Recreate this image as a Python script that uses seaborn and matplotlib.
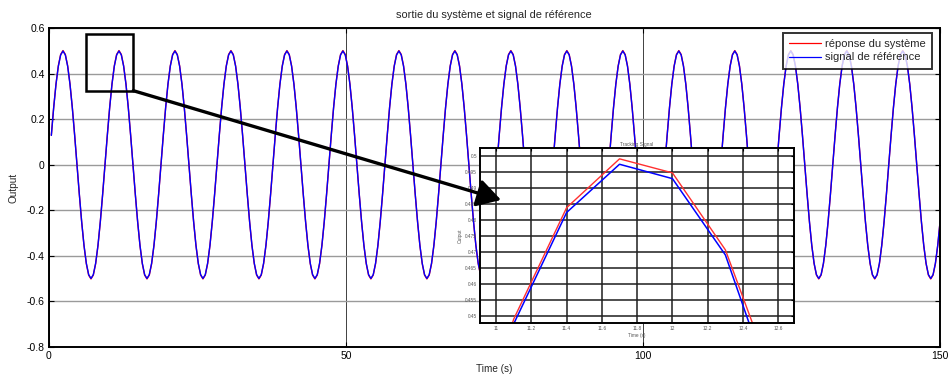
import numpy as np
import pandas as pd
import matplotlib
matplotlib.use("Agg")
import matplotlib.pyplot as plt
import seaborn as sns
from matplotlib.patches import Rectangle, FancyArrowPatch

# ---------------- data ----------------
# main chart: signals sampled every pi/8 s (period of the wave ~ 9.42 s, amplitude 0.5)
sample_step = 0.3927
reference_signal = [
    0.129, 0.25, 0.354, 0.433, 0.483, 0.5, 0.483, 0.433, 0.354, 0.25, 0.129, 0, -0.129, -0.25, -0.354, -0.433, -0.483, -0.5, -0.483, -0.433, -0.354, -0.25, -0.129, 0,
    0.129, 0.25, 0.354, 0.433, 0.483, 0.5, 0.483, 0.433, 0.354, 0.25, 0.129, 0, -0.129, -0.25, -0.354, -0.433, -0.483, -0.5, -0.483, -0.433, -0.354, -0.25, -0.129, 0,
    0.129, 0.25, 0.354, 0.433, 0.483, 0.5, 0.483, 0.433, 0.354, 0.25, 0.129, 0, -0.129, -0.25, -0.354, -0.433, -0.483, -0.5, -0.483, -0.433, -0.354, -0.25, -0.129, 0,
    0.129, 0.25, 0.354, 0.433, 0.483, 0.5, 0.483, 0.433, 0.354, 0.25, 0.129, 0, -0.129, -0.25, -0.354, -0.433, -0.483, -0.5, -0.483, -0.433, -0.354, -0.25, -0.129, 0,
    0.129, 0.25, 0.354, 0.433, 0.483, 0.5, 0.483, 0.433, 0.354, 0.25, 0.129, 0, -0.129, -0.25, -0.354, -0.433, -0.483, -0.5, -0.483, -0.433, -0.354, -0.25, -0.129, 0,
    0.129, 0.25, 0.354, 0.433, 0.483, 0.5, 0.483, 0.433, 0.354, 0.25, 0.129, 0, -0.129, -0.25, -0.354, -0.433, -0.483, -0.5, -0.483, -0.433, -0.354, -0.25, -0.129, 0,
    0.129, 0.25, 0.354, 0.433, 0.483, 0.5, 0.483, 0.433, 0.354, 0.25, 0.129, 0, -0.129, -0.25, -0.354, -0.433, -0.483, -0.5, -0.483, -0.433, -0.354, -0.25, -0.129, 0,
    0.129, 0.25, 0.354, 0.433, 0.483, 0.5, 0.483, 0.433, 0.354, 0.25, 0.129, 0, -0.129, -0.25, -0.354, -0.433, -0.483, -0.5, -0.483, -0.433, -0.354, -0.25, -0.129, 0,
    0.129, 0.25, 0.354, 0.433, 0.483, 0.5, 0.483, 0.433, 0.354, 0.25, 0.129, 0, -0.129, -0.25, -0.354, -0.433, -0.483, -0.5, -0.483, -0.433, -0.354, -0.25, -0.129, 0,
    0.129, 0.25, 0.354, 0.433, 0.483, 0.5, 0.483, 0.433, 0.354, 0.25, 0.129, 0, -0.129, -0.25, -0.354, -0.433, -0.483, -0.5, -0.483, -0.433, -0.354, -0.25, -0.129, 0,
    0.129, 0.25, 0.354, 0.433, 0.483, 0.5, 0.483, 0.433, 0.354, 0.25, 0.129, 0, -0.129, -0.25, -0.354, -0.433, -0.483, -0.5, -0.483, -0.433, -0.354, -0.25, -0.129, 0,
    0.129, 0.25, 0.354, 0.433, 0.483, 0.5, 0.483, 0.433, 0.354, 0.25, 0.129, 0, -0.129, -0.25, -0.354, -0.433, -0.483, -0.5, -0.483, -0.433, -0.354, -0.25, -0.129, 0,
    0.129, 0.25, 0.354, 0.433, 0.483, 0.5, 0.483, 0.433, 0.354, 0.25, 0.129, 0, -0.129, -0.25, -0.354, -0.433, -0.483, -0.5, -0.483, -0.433, -0.354, -0.25, -0.129, 0,
    0.129, 0.25, 0.354, 0.433, 0.483, 0.5, 0.483, 0.433, 0.354, 0.25, 0.129, 0, -0.129, -0.25, -0.354, -0.433, -0.483, -0.5, -0.483, -0.433, -0.354, -0.25, -0.129, 0,
    0.129, 0.25, 0.354, 0.433, 0.483, 0.5, 0.483, 0.433, 0.354, 0.25, 0.129, 0, -0.129, -0.25, -0.354, -0.433, -0.483, -0.5, -0.483, -0.433, -0.354, -0.25, -0.129, 0,
    0.129, 0.25, 0.354, 0.433, 0.483, 0.5, 0.483, 0.433, 0.354, 0.25, 0.129, 0, -0.129, -0.25, -0.354, -0.433, -0.483, -0.5, -0.483, -0.433, -0.354, -0.25,
]
system_response = [
    0.13, 0.251, 0.355, 0.435, 0.485, 0.502, 0.485, 0.435, 0.355, 0.251, 0.13, 0, -0.13, -0.251, -0.355, -0.435, -0.485, -0.502, -0.485, -0.435, -0.355, -0.251, -0.13, 0,
    0.13, 0.251, 0.355, 0.435, 0.485, 0.502, 0.485, 0.435, 0.355, 0.251, 0.13, 0, -0.13, -0.251, -0.355, -0.435, -0.485, -0.502, -0.485, -0.435, -0.355, -0.251, -0.13, 0,
    0.13, 0.251, 0.355, 0.435, 0.485, 0.502, 0.485, 0.435, 0.355, 0.251, 0.13, 0, -0.13, -0.251, -0.355, -0.435, -0.485, -0.502, -0.485, -0.435, -0.355, -0.251, -0.13, 0,
    0.13, 0.251, 0.355, 0.435, 0.485, 0.502, 0.485, 0.435, 0.355, 0.251, 0.13, 0, -0.13, -0.251, -0.355, -0.435, -0.485, -0.502, -0.485, -0.435, -0.355, -0.251, -0.13, 0,
    0.13, 0.251, 0.355, 0.435, 0.485, 0.502, 0.485, 0.435, 0.355, 0.251, 0.13, 0, -0.13, -0.251, -0.355, -0.435, -0.485, -0.502, -0.485, -0.435, -0.355, -0.251, -0.13, 0,
    0.13, 0.251, 0.355, 0.435, 0.485, 0.502, 0.485, 0.435, 0.355, 0.251, 0.13, 0, -0.13, -0.251, -0.355, -0.435, -0.485, -0.502, -0.485, -0.435, -0.355, -0.251, -0.13, 0,
    0.13, 0.251, 0.355, 0.435, 0.485, 0.502, 0.485, 0.435, 0.355, 0.251, 0.13, 0, -0.13, -0.251, -0.355, -0.435, -0.485, -0.502, -0.485, -0.435, -0.355, -0.251, -0.13, 0,
    0.13, 0.251, 0.355, 0.435, 0.485, 0.502, 0.485, 0.435, 0.355, 0.251, 0.13, 0, -0.13, -0.251, -0.355, -0.435, -0.485, -0.502, -0.485, -0.435, -0.355, -0.251, -0.13, 0,
    0.13, 0.251, 0.355, 0.435, 0.485, 0.502, 0.485, 0.435, 0.355, 0.251, 0.13, 0, -0.13, -0.251, -0.355, -0.435, -0.485, -0.502, -0.485, -0.435, -0.355, -0.251, -0.13, 0,
    0.13, 0.251, 0.355, 0.435, 0.485, 0.502, 0.485, 0.435, 0.355, 0.251, 0.13, 0, -0.13, -0.251, -0.355, -0.435, -0.485, -0.502, -0.485, -0.435, -0.355, -0.251, -0.13, 0,
    0.13, 0.251, 0.355, 0.435, 0.485, 0.502, 0.485, 0.435, 0.355, 0.251, 0.13, 0, -0.13, -0.251, -0.355, -0.435, -0.485, -0.502, -0.485, -0.435, -0.355, -0.251, -0.13, 0,
    0.13, 0.251, 0.355, 0.435, 0.485, 0.502, 0.485, 0.435, 0.355, 0.251, 0.13, 0, -0.13, -0.251, -0.355, -0.435, -0.485, -0.502, -0.485, -0.435, -0.355, -0.251, -0.13, 0,
    0.13, 0.251, 0.355, 0.435, 0.485, 0.502, 0.485, 0.435, 0.355, 0.251, 0.13, 0, -0.13, -0.251, -0.355, -0.435, -0.485, -0.502, -0.485, -0.435, -0.355, -0.251, -0.13, 0,
    0.13, 0.251, 0.355, 0.435, 0.485, 0.502, 0.485, 0.435, 0.355, 0.251, 0.13, 0, -0.13, -0.251, -0.355, -0.435, -0.485, -0.502, -0.485, -0.435, -0.355, -0.251, -0.13, 0,
    0.13, 0.251, 0.355, 0.435, 0.485, 0.502, 0.485, 0.435, 0.355, 0.251, 0.13, 0, -0.13, -0.251, -0.355, -0.435, -0.485, -0.502, -0.485, -0.435, -0.355, -0.251, -0.13, 0,
    0.13, 0.251, 0.355, 0.435, 0.485, 0.502, 0.485, 0.435, 0.355, 0.251, 0.13, 0, -0.13, -0.251, -0.355, -0.435, -0.485, -0.502, -0.485, -0.435, -0.355, -0.251,
]
main_xticks = [0, 50, 100, 150]
main_yticks = [-0.8, -0.6, -0.4, -0.2, 0, 0.2, 0.4, 0.6]
main_ytick_labels = ["-0.8", "-0.6", "-0.4", "-0.2", "0", "0.2", "0.4", "0.6"]

# zoomed inset ("Tracking Signal"), samples every 0.3 s
inset_time = [10.8, 11.1, 11.4, 11.7, 12.0, 12.3, 12.6, 12.9]
inset_reference = [0.3954, 0.4474, 0.4823, 0.4974, 0.4929, 0.4690, 0.4214, 0.3657]
inset_response = [0.3970, 0.4489, 0.4838, 0.4991, 0.4947, 0.4706, 0.4258, 0.3670]
inset_xticks = [11, 11.2, 11.4, 11.6, 11.8, 12, 12.2, 12.4, 12.6]
inset_xtick_labels = ["11", "11.2", "11.4", "11.6", "11.8", "12", "12.2", "12.4", "12.6"]
inset_yticks = [0.45, 0.455, 0.46, 0.465, 0.47, 0.475, 0.48, 0.485, 0.49, 0.495, 0.5]
inset_ytick_labels = ["0.45", "0.455", "0.46", "0.465", "0.47", "0.475", "0.48", "0.485", "0.49", "0.495", "0.5"]

# ---------------- style ----------------
sns.set_theme(style="white")
plt.rcParams["font.family"] = ["Liberation Sans", "DejaVu Sans"]

fig = plt.figure(figsize=(9.5, 3.76), dpi=100)
ax = fig.add_axes([49 / 950, 1 - 346.7 / 376, (940 - 49) / 950, (346.7 - 28.3) / 376])

time = (np.arange(len(reference_signal)) + 1) * sample_step
df = pd.DataFrame({"time": time, "reference": reference_signal, "response": system_response})

sns.lineplot(data=df, x="time", y="response", ax=ax, color="#ff0000", lw=1.0,
             label="réponse du système", estimator=None, sort=False)
sns.lineplot(data=df, x="time", y="reference", ax=ax, color="#0000ff", lw=1.0,
             label="signal de référence", estimator=None, sort=False)

ax.set_xlim(0, 150)
ax.set_ylim(-0.8, 0.6)
ax.set_xticks(main_xticks)
ax.set_yticks(main_yticks)
ax.set_yticklabels(main_ytick_labels)
ax.tick_params(direction="in", length=3.5, width=0.8, colors="black", labelsize=7.5,
               top=True, right=True, bottom=True, left=True, pad=3)
for s in ax.spines.values():
    s.set_color("black")
    s.set_linewidth(1.4)
ax.grid(True, axis="y", color="#9a9a9a", lw=1.0)
ax.grid(True, axis="x", color="#404040", lw=0.7)
ax.set_axisbelow(True)

ax.set_xlabel("Time (s)", fontsize=7.2, labelpad=2)
ax.set_ylabel("Output", fontsize=7.2, labelpad=6)
fig.text(494 / 950, 1 - 15 / 376, "sortie du système et signal de référence",
         ha="center", va="center", fontsize=7.9)

leg = ax.legend(loc="upper right", bbox_to_anchor=((932 - 49) / 891, (346.7 - 33) / 318.4),
                borderaxespad=0, fontsize=8.0, frameon=True, fancybox=False,
                handlelength=2.9, handletextpad=0.35, borderpad=0.55, labelspacing=0.3)
leg.get_frame().set_edgecolor("black")
leg.get_frame().set_linewidth(1.4)
for line in leg.get_lines():
    line.set_linewidth(0.9)

# zoom box on the main plot
ax.add_patch(Rectangle((6.23, 0.3257), 14.19 - 6.23, 0.5736 - 0.3257, fill=False,
                       edgecolor="black", lw=1.8, zorder=6))

# ---------------- inset ----------------
axin = fig.add_axes([480 / 950, 1 - 323.3 / 376, (794 - 480) / 950, (323.3 - 148.3) / 376])
axin.set_facecolor("white")
inset_df = pd.DataFrame({"time": inset_time, "reference": inset_reference, "response": inset_response})
sns.lineplot(data=inset_df, x="time", y="response", ax=axin, color="#ff3030", lw=1.0,
             estimator=None, sort=False, legend=False)
sns.lineplot(data=inset_df, x="time", y="reference", ax=axin, color="#0000ff", lw=1.1,
             estimator=None, sort=False, legend=False)
axin.set_xlim(10.909, 12.689)
axin.set_ylim(0.4476, 0.5024)
axin.set_xticks(inset_xticks)
axin.set_xticklabels(inset_xtick_labels)
axin.set_yticks(inset_yticks)
axin.set_yticklabels(inset_ytick_labels)
axin.tick_params(direction="in", length=2, width=0.8, colors="black", labelsize=3.4,
                 labelcolor="#555555", top=True, right=True, pad=2)
axin.grid(True, color="#1e1e1e", lw=1.1)
axin.set_axisbelow(True)
for s in axin.spines.values():
    s.set_color("black")
    s.set_linewidth(1.4)
axin.set_title("Tracking Signal", fontsize=3.4, color="#555555", pad=2)
axin.set_xlabel("Time (s)", fontsize=3.4, color="#555555", labelpad=1.5)
axin.set_ylabel("Output", fontsize=3.4, color="#555555", labelpad=1.5)

# arrow from the zoom box to the inset (drawn above everything)
arrow = FancyArrowPatch((14.19, 0.3257), (76.1, -0.1547), transform=ax.transData,
                        arrowstyle="-|>,head_length=6,head_width=3.5", mutation_scale=2.4,
                        lw=2.4, color="black", shrinkA=0, shrinkB=0, zorder=10)
fig.add_artist(arrow)

fig.savefig("out.png", dpi=100)
